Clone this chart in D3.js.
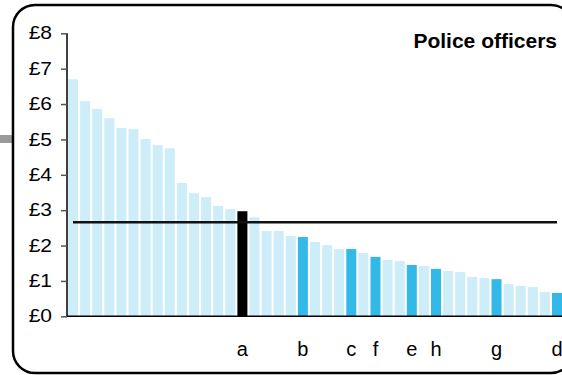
<!DOCTYPE html>
<html><head><meta charset="utf-8">
<script src="https://cdnjs.cloudflare.com/ajax/libs/d3/7.8.5/d3.min.js"></script>
<style>html,body{margin:0;padding:0;background:#fff;overflow:hidden}</style>
</head><body>
<svg id="c" width="562" height="375"></svg>
<script>
const categories = d3.range(1, 42).map(String);
const values = [6.70,6.08,5.86,5.60,5.32,5.29,5.01,4.84,4.75,3.77,
  3.48,3.37,3.12,3.03,2.97,2.80,2.41,2.41,2.27,2.24,
  2.10,2.01,1.90,1.90,1.79,1.68,1.59,1.56,1.45,1.42,
  1.34,1.28,1.25,1.11,1.08,1.05,0.91,0.86,0.83,0.69,0.66];
const labels = {"15":"a","20":"b","24":"c","26":"f","29":"e","31":"h","36":"g","41":"d"};
const highlightBlack = ["15"];
const highlightBlue = ["20","24","26","29","31","36","41"];
const average = 2.66;
const yTicks = [0,1,2,3,4,5,6,7,8];
const title = "Police officers";

const svg = d3.select("#c");
const x = d3.scaleBand().domain(categories).range([68, 562]).paddingInner(0.1736).paddingOuter(0);
const y = d3.scaleLinear().domain([0, 8]).range([316.3, 33.3]);

// frame
svg.append("rect").attr("x", 0).attr("y", 135).attr("width", 13).attr("height", 8).attr("fill", "#9a9a9a");
svg.append("rect").attr("x", 13).attr("y", 5).attr("width", 560).attr("height", 368)
  .attr("rx", 22).attr("ry", 22).attr("fill", "#fff").attr("stroke", "#000").attr("stroke-width", 2.5);

// bars
svg.append("g").selectAll("rect").data(categories).join("rect")
  .attr("x", d => x(d)).attr("width", x.bandwidth())
  .attr("y", (d, i) => y(values[i])).attr("height", (d, i) => y(0) - y(values[i]))
  .attr("fill", d => highlightBlack.includes(d) ? "#000" : highlightBlue.includes(d) ? "#33b9e8" : "#cdedf9");

// average line
svg.append("line")
  .attr("x1", x(categories[0]) + x.bandwidth() / 2)
  .attr("x2", x(categories[categories.length - 1]) + x.bandwidth() / 2)
  .attr("y1", y(average)).attr("y2", y(average))
  .attr("stroke", "#111").attr("stroke-width", 2.5);

// y axis
const ya = svg.append("g").attr("transform", "translate(67,0)")
  .call(d3.axisLeft(y).tickValues(yTicks).tickSize(6).tickPadding(10).tickFormat(d => "£" + d));
ya.select(".domain").attr("stroke", "#000").attr("stroke-width", 1.5).attr("d", `M0,${y(8)}V${y(0)}`);
ya.selectAll(".tick line").attr("stroke", "#555").attr("stroke-width", 1.5);
ya.selectAll(".tick text").attr("x", 0).attr("transform", "translate(-15,0) scale(1.2,1)")
  .attr("font-family", "Liberation Sans, Arial, sans-serif").attr("font-size", 17.5).attr("fill", "#000");

// x axis
const xa = svg.append("g").attr("transform", `translate(0,${y(0)})`)
  .call(d3.axisBottom(x).tickSize(0).tickPadding(26).tickFormat(d => labels[d] || ""));
xa.select(".domain").attr("stroke", "#000").attr("stroke-width", 1.5).attr("d", `M67,0H562`);
xa.selectAll(".tick text").attr("font-family", "Liberation Sans, Arial, sans-serif").attr("font-size", 20).attr("fill", "#000");

// title
svg.append("text").attr("x", 557).attr("y", 48).attr("text-anchor", "end")
  .attr("font-family", "Liberation Sans, Arial, sans-serif").attr("font-weight", "bold").attr("font-size", 21)
  .text(title);
</script>
</body></html>
